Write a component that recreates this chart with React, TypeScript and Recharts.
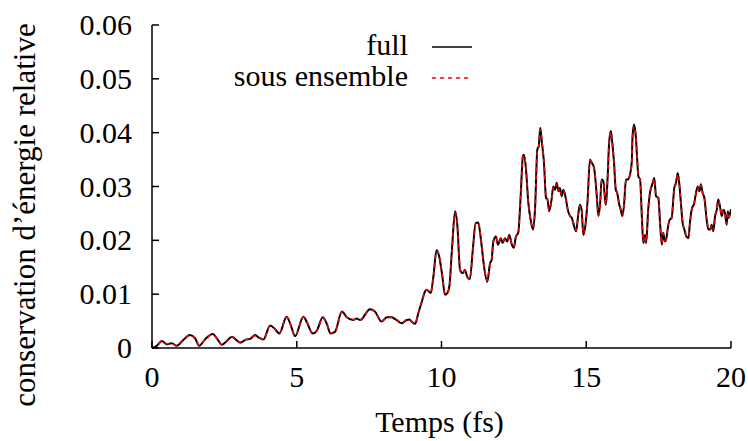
import React from 'react';
import { LineChart, Line, XAxis, YAxis, Legend } from 'recharts';

const timeFs = [
  0, 0.16, 0.34, 0.51, 0.68, 0.86, 1.08, 1.31, 1.49, 1.63,
  1.83, 2.1, 2.24, 2.41, 2.6, 2.76, 2.93, 3.04, 3.27, 3.39,
  3.56, 3.67, 3.85, 4.08, 4.25, 4.4, 4.65, 4.79, 4.94, 5.23,
  5.34, 5.55, 5.69, 5.9, 6.03, 6.17, 6.32, 6.56, 6.73, 6.95,
  7.07, 7.19, 7.53, 7.7, 7.93, 8.11, 8.28, 8.39, 8.63, 8.8,
  8.89, 8.97, 9.09, 9.2, 9.32, 9.43, 9.49, 9.63, 9.72, 9.83,
  9.92, 10.03, 10.12, 10.2, 10.27, 10.36, 10.47, 10.55, 10.64, 10.73,
  10.81, 10.89, 10.98, 11.08, 11.18, 11.27, 11.35, 11.47, 11.58, 11.68,
  11.73, 11.79, 11.88, 11.95, 12.05, 12.11, 12.19, 12.27, 12.34, 12.43,
  12.5, 12.57, 12.65, 12.74, 12.81, 12.85, 12.92, 13.0, 13.08, 13.16,
  13.23, 13.31, 13.36, 13.41, 13.47, 13.54, 13.61, 13.66, 13.72, 13.81,
  13.86, 13.92, 13.98, 14.04, 14.09, 14.15, 14.21, 14.29, 14.36, 14.44,
  14.5, 14.55, 14.65, 14.73, 14.78, 14.84, 14.9, 14.96, 15.04, 15.13,
  15.19, 15.27, 15.36, 15.42, 15.48, 15.53, 15.59, 15.65, 15.68, 15.74,
  15.79, 15.85, 15.9, 15.96, 16.02, 16.07, 16.13, 16.19, 16.25, 16.31,
  16.37, 16.43, 16.51, 16.57, 16.6, 16.65, 16.71, 16.76, 16.8, 16.86,
  16.92, 16.97, 17.03, 17.07, 17.14, 17.2, 17.28, 17.35, 17.41, 17.49,
  17.55, 17.61, 17.66, 17.72, 17.78, 17.81, 17.88, 17.95, 18.04, 18.1,
  18.16, 18.21, 18.27, 18.33, 18.39, 18.46, 18.53, 18.58, 18.64, 18.73,
  18.79, 18.85, 18.91, 18.96, 19.02, 19.08, 19.16, 19.22, 19.28, 19.33,
  19.39, 19.45, 19.51, 19.56, 19.62, 19.68, 19.74, 19.79, 19.85, 19.89,
  19.92, 19.96, 20.0,
];

const fullValues = [
  0, 0.0004, 0.0013, 0.0007, 0.0009, 0.0004, 0.0015, 0.0024, 0.0018, 0.0004,
  0.0016, 0.0026, 0.0018, 0.0006, 0.0014, 0.0021, 0.0014, 0.001, 0.0016, 0.0017,
  0.0024, 0.002, 0.0016, 0.0042, 0.0035, 0.0027, 0.0058, 0.0043, 0.0022, 0.0058,
  0.0049, 0.0027, 0.0032, 0.0057, 0.0046, 0.0027, 0.003, 0.0068, 0.0057, 0.0052,
  0.0055, 0.0052, 0.0072, 0.0068, 0.0049, 0.0057, 0.0057, 0.0054, 0.0046, 0.0052,
  0.0053, 0.0049, 0.0045, 0.0065, 0.0086, 0.0105, 0.0108, 0.0102, 0.0133, 0.0182,
  0.017, 0.0133, 0.0099, 0.0102, 0.0114, 0.0182, 0.0254, 0.0226, 0.0145, 0.0139,
  0.0145, 0.0132, 0.0128, 0.0182, 0.0232, 0.0233, 0.0207, 0.0151, 0.0123, 0.0158,
  0.0163, 0.0198, 0.0207, 0.0192, 0.0204, 0.0195, 0.0204, 0.0198, 0.021, 0.0192,
  0.0186, 0.0207, 0.0214, 0.0288, 0.0356, 0.0359, 0.0331, 0.0269, 0.0238, 0.022,
  0.0257, 0.0369, 0.0375, 0.0409, 0.0381, 0.0344, 0.0279, 0.0276, 0.0254, 0.0279,
  0.03, 0.0294, 0.0307, 0.0291, 0.0297, 0.0282, 0.0294, 0.0279, 0.0257, 0.0245,
  0.0242, 0.0232, 0.0217, 0.0251, 0.0266, 0.0257, 0.021, 0.0223, 0.0269, 0.035,
  0.0344, 0.0335, 0.0285, 0.0245, 0.0269, 0.0313, 0.031, 0.0276, 0.0266, 0.0319,
  0.0381, 0.0403, 0.0381, 0.0344, 0.0294, 0.0288, 0.0269, 0.0257, 0.0245, 0.0269,
  0.0313, 0.0313, 0.0322, 0.0344, 0.0394, 0.0415, 0.0394, 0.035, 0.0319, 0.0313,
  0.0245, 0.0195, 0.021, 0.0195, 0.0257, 0.0288, 0.0304, 0.0316, 0.0282, 0.0279,
  0.0232, 0.0192, 0.0214, 0.0198, 0.0207, 0.022, 0.0238, 0.0242, 0.0297, 0.0307,
  0.0325, 0.0307, 0.0269, 0.0232, 0.022, 0.0207, 0.0204, 0.0232, 0.0257, 0.0269,
  0.0288, 0.03, 0.0291, 0.0304, 0.0288, 0.0279, 0.0238, 0.022, 0.022, 0.0229,
  0.0217, 0.0245, 0.0257, 0.0276, 0.0263, 0.0245, 0.0257, 0.0251, 0.0229, 0.0254,
  0.0242, 0.0248, 0.0258,
];

const sousEnsembleValues = [
  0, 0.0003, 0.0012, 0.0008, 0.0008, 0.0004, 0.0014, 0.0024, 0.0019, 0.0005,
  0.0016, 0.0025, 0.0018, 0.0006, 0.0013, 0.0021, 0.0015, 0.001, 0.0016, 0.0018,
  0.0023, 0.002, 0.0016, 0.0041, 0.0035, 0.0028, 0.0057, 0.0043, 0.0023, 0.0057,
  0.0049, 0.0028, 0.0032, 0.0056, 0.0046, 0.0028, 0.003, 0.0067, 0.0057, 0.0053,
  0.0054, 0.0052, 0.0071, 0.0068, 0.005, 0.0056, 0.0057, 0.0055, 0.0047, 0.0052,
  0.0052, 0.0049, 0.0046, 0.0064, 0.0086, 0.0104, 0.0108, 0.0103, 0.0132, 0.018,
  0.0171, 0.0134, 0.01, 0.0102, 0.0113, 0.018, 0.0252, 0.0227, 0.0146, 0.0139,
  0.0144, 0.0133, 0.0129, 0.018, 0.0231, 0.0234, 0.0208, 0.0152, 0.0125, 0.0157,
  0.0164, 0.0197, 0.0206, 0.0194, 0.0203, 0.0197, 0.0203, 0.0199, 0.0208, 0.0194,
  0.0188, 0.0206, 0.0215, 0.0287, 0.0354, 0.0358, 0.0332, 0.027, 0.0239, 0.0222,
  0.0256, 0.0366, 0.0376, 0.0406, 0.0382, 0.0345, 0.028, 0.0275, 0.0256, 0.0278,
  0.0298, 0.0295, 0.0305, 0.0292, 0.0296, 0.0284, 0.0292, 0.028, 0.0258, 0.0246,
  0.0241, 0.0234, 0.0219, 0.025, 0.0264, 0.0256, 0.0212, 0.0224, 0.0268, 0.0348,
  0.0345, 0.0334, 0.0286, 0.0247, 0.0268, 0.0311, 0.0309, 0.0277, 0.0267, 0.0318,
  0.0379, 0.0401, 0.0382, 0.0345, 0.0295, 0.0287, 0.027, 0.0258, 0.0247, 0.0268,
  0.0311, 0.0314, 0.0321, 0.0343, 0.0392, 0.0412, 0.0395, 0.0351, 0.032, 0.0312,
  0.0247, 0.0198, 0.0209, 0.0197, 0.0256, 0.0287, 0.0303, 0.0315, 0.0283, 0.0278,
  0.0234, 0.0194, 0.0213, 0.02, 0.0206, 0.0221, 0.0237, 0.0243, 0.0295, 0.0306,
  0.0323, 0.0308, 0.027, 0.0234, 0.0221, 0.0208, 0.0206, 0.0231, 0.0256, 0.027,
  0.0287, 0.0298, 0.0292, 0.0302, 0.0289, 0.0278, 0.024, 0.0222, 0.0221, 0.0228,
  0.0219, 0.0244, 0.0258, 0.0274, 0.0264, 0.0247, 0.0256, 0.025, 0.0231, 0.0252,
  0.0244, 0.0247, 0.0256,
];

const xTicks = [0, 5, 10, 15, 20];
const yTicks = [0, 0.01, 0.02, 0.03, 0.04, 0.05, 0.06];

const seriesNames = { full: 'full', sous: 'sous ensemble' };
const xTitle = 'Temps (fs)';
const yTitle = 'conservation d\u2019énergie relative';

const data = timeFs.map((t, i) => ({
  t,
  full: fullValues[i],
  sous: sousEnsembleValues[i],
}));

const FONT = '"Liberation Serif", "Times New Roman", serif';
const FS = 30;
const TICK = 7;
const W = 748;
const H = 441;

const fmtY = (v: number) => (v === 0 ? '0' : v.toFixed(2));

const BottomTick = (props: any) => {
  const { x, y, payload } = props;
  return (
    <g>
      <line x1={x} y1={y} x2={x} y2={y - TICK} stroke="#000" strokeWidth={1.5} />
      <text x={x} y={y + 39} textAnchor="middle" fontFamily={FONT} fontSize={FS} fill="#000">
        {payload.value}
      </text>
    </g>
  );
};

const TopTick = (props: any) => {
  const { x, y } = props;
  return <line x1={x} y1={y} x2={x} y2={y + TICK} stroke="#000" strokeWidth={1.5} />;
};

const LeftTick = (props: any) => {
  const { x, y, payload } = props;
  return (
    <g>
      <line x1={x} y1={y} x2={x + TICK} y2={y} stroke="#000" strokeWidth={1.5} />
      <text x={x - 20} y={y + 10} textAnchor="end" fontFamily={FONT} fontSize={FS} fill="#000">
        {fmtY(payload.value)}
      </text>
    </g>
  );
};

const RightTick = (props: any) => {
  const { x, y } = props;
  return <line x1={x} y1={y} x2={x - TICK} y2={y} stroke="#000" strokeWidth={1.5} />;
};

const YTitle = () => (
  <text
    x={35}
    y={215}
    transform="rotate(-90 35 215)"
    textAnchor="middle"
    fontFamily={FONT}
    fontSize={31}
    fill="#000"
  >
    {yTitle}
  </text>
);

const XTitle = (props: any) => {
  const vb = props.viewBox || {};
  const cx = (vb.x ?? 152) + (vb.width ?? 579) / 2;
  return (
    <text x={cx - 2} y={432} textAnchor="middle" fontFamily={FONT} fontSize={FS} fill="#000">
      {xTitle}
    </text>
  );
};

const LegendContent = () => (
  <svg width={W} height={100} style={{ overflow: 'visible', display: 'block' }}>
    <text x={408} y={55} textAnchor="end" fontFamily={FONT} fontSize={FS} fill="#000">
      {seriesNames.full}
    </text>
    <line x1={432} y1={47} x2={472} y2={47} stroke="#000" strokeWidth={1.6} />
    <text x={408} y={86} textAnchor="end" fontFamily={FONT} fontSize={FS} fill="#000">
      {seriesNames.sous}
    </text>
    <line x1={432} y1={78} x2={472} y2={78} stroke="#ff0000" strokeWidth={1.6} strokeDasharray="4 4" />
  </svg>
);

export default function App() {
  return (
    <div style={{ width: W, height: H }}>
      <style>{'html,body{margin:0;padding:0;overflow:hidden;}'}</style>
      <LineChart
        width={W}
        height={H}
        data={data}
        margin={{ top: 25, right: 17, left: 0, bottom: 23 }}
      >
        <XAxis
          dataKey="t"
          type="number"
          domain={[0, 20]}
          ticks={xTicks}
          interval={0}
          height={70}
          tickSize={0}
          tickMargin={0}
          tickLine={false}
          axisLine={{ stroke: '#000', strokeWidth: 1.5 }}
          tick={<BottomTick />}
          label={<XTitle />}
          allowDataOverflow
        />
        <XAxis
          xAxisId="top"
          dataKey="t"
          type="number"
          orientation="top"
          domain={[0, 20]}
          ticks={xTicks}
          interval={0}
          height={0}
          tickSize={0}
          tickMargin={0}
          tickLine={false}
          axisLine={{ stroke: '#000', strokeWidth: 1.5 }}
          tick={<TopTick />}
          allowDataOverflow
        />
        <YAxis
          type="number"
          domain={[0, 0.06]}
          ticks={yTicks}
          interval={0}
          width={152}
          tickSize={0}
          tickMargin={0}
          tickLine={false}
          axisLine={{ stroke: '#000', strokeWidth: 1.5 }}
          tick={<LeftTick />}
          label={<YTitle />}
          allowDataOverflow
        />
        <YAxis
          yAxisId="right"
          type="number"
          orientation="right"
          domain={[0, 0.06]}
          ticks={yTicks}
          interval={0}
          width={0}
          tickSize={0}
          tickMargin={0}
          tickLine={false}
          axisLine={{ stroke: '#000', strokeWidth: 1.5 }}
          tick={<RightTick />}
          allowDataOverflow
        />
        <Legend
          layout="horizontal"
          verticalAlign="middle"
          align="center"
          content={<LegendContent />}
          wrapperStyle={{ top: 0, left: 0, width: W, height: 100, pointerEvents: 'none' }}
        />
        <Line
          type="monotone"
          dataKey="full"
          name={seriesNames.full}
          stroke="#000"
          strokeWidth={2}
          dot={false}
          activeDot={false}
          isAnimationActive={false}
        />
        <Line
          type="monotone"
          dataKey="sous"
          name={seriesNames.sous}
          stroke="#ff0000"
          strokeWidth={1.6}
          strokeDasharray="4 4"
          dot={false}
          activeDot={false}
          isAnimationActive={false}
        />
      </LineChart>
    </div>
  );
}
